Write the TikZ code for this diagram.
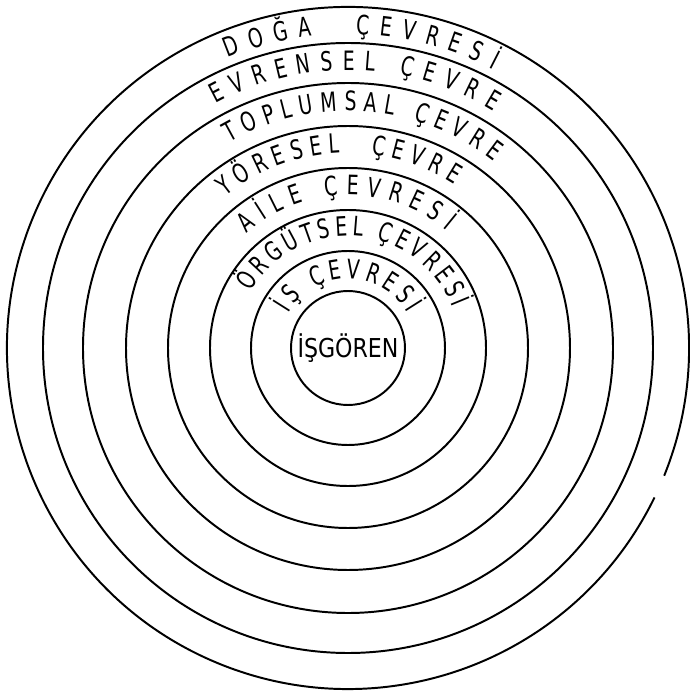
\documentclass[tikz,border=0pt]{standalone}
\usepackage{fontspec}
\usepackage{tikz}
\usetikzlibrary{decorations.text}
\newfontfamily\ringface[FakeStretch=0.7]{DejaVu Sans}
\newfontfamily\coreface[FakeStretch=0.85]{DejaVu Sans}
\newcommand\ringfont{\ringface\fontsize{19}{19}\selectfont}
\tikzset{
  ring/.style={draw=black,line width=1.4pt},
  ringtext/.style={decorate,decoration={text along path,text align={fit to path},text={|\ringfont|#1}}},
  core/.style={font=\coreface\fontsize{18.5}{18.5}\selectfont,inner sep=0pt}
}

\begin{document}
\begin{tikzpicture}[x=0.025cm,y=0.025cm]
\useasboundingbox (-348,-349) rectangle (342,348);
% rings, inside out
\foreach \r in {57,97,138,180,222,265,305}
  \draw[ring] (0,0) circle[radius=\r];
% outer ring, open on the right
\draw[ring] (-22:341) arc[start angle=-22,end angle=334,radius=341];
\node[core] (isgoren) at (0,0) {İŞGÖREN};
% ring labels
\path[ringtext={İŞ ÇEVRESİ}] (150:69) arc[start angle=150,end angle=30,radius=69];
\path[ringtext={ÖRGÜTSEL ÇEVRESİ}] (150:112) arc[start angle=150,end angle=21,radius=112];
\path[ringtext={AİLE ÇEVRESİ}] (131.5:153) arc[start angle=131.5,end angle=50,radius=153];
\path[ringtext={YÖRESEL{\ }{\ }ÇEVRE}] (129:195) arc[start angle=129,end angle=57,radius=195];
\path[ringtext={TOPLUMSAL ÇEVRE}] (120:237) arc[start angle=120,end angle=52,radius=237];
\path[ringtext={EVRENSEL ÇEVRE}] (118.5:278) arc[start angle=118.5,end angle=58.5,radius=278];
\path[ringtext={DOĞA{\ }{\ }ÇEVRESİ}] (112.5:314) arc[start angle=112.5,end angle=62.5,radius=314];
\end{tikzpicture}
\end{document}
